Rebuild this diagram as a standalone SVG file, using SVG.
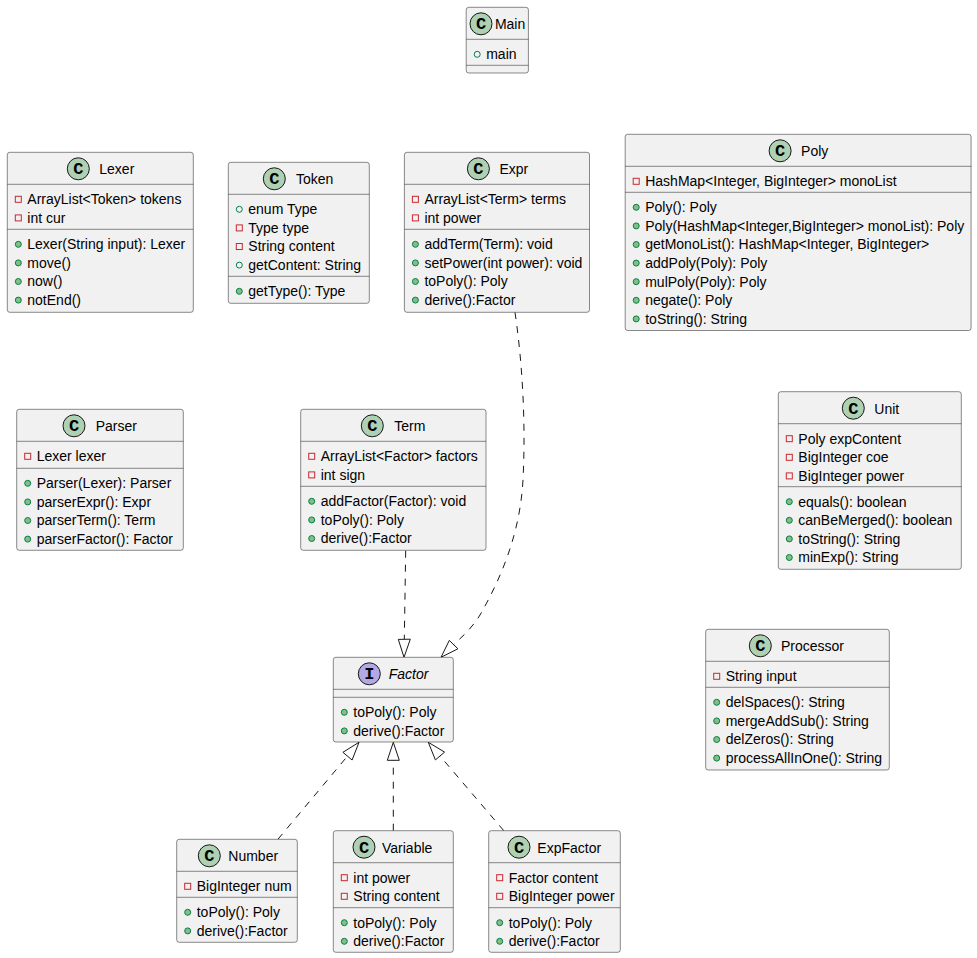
<svg xmlns="http://www.w3.org/2000/svg" width="977" height="958" viewBox="0 0 977 958">
<style>
.box{fill:#F1F1F1;stroke:#181818;stroke-width:0.5}
.sep{stroke:#181818;stroke-width:0.5}
text{font-family:"Liberation Sans",Arial,sans-serif;font-size:14px;fill:#000000}
.it{font-style:italic}
.ci{fill:#ADD1B2;stroke:#181818;stroke-width:1}
.ii{fill:#B4A7E5;stroke:#181818;stroke-width:1}
text.cl{font-family:"Liberation Mono","Courier New",monospace;font-size:17px;font-weight:bold;text-anchor:middle}
.pv{fill:none;stroke:#C82930;stroke-width:1}
.pm{fill:#84BE84;stroke:#038048;stroke-width:1}
.pf{fill:none;stroke:#038048;stroke-width:1}
.edge{fill:none;stroke:#181818;stroke-width:1;stroke-dasharray:7,7}
.head{fill:none;stroke:#181818;stroke-width:1}
</style>
<defs>
<rect id="priv" x="-3" y="-3" width="6" height="6" class="pv"/>
<circle id="pubm" r="3" class="pm"/>
<circle id="pubf" r="3" class="pf"/>
</defs>

<g id="connectors">
<path class="edge" d="M405.7,550.7 L404.3,639.3"/>
<polygon class="head" points="404,657.3 398.3,639.4 410.3,639.2"/>
<path class="edge" d="M515,312.3 C522,360 526,420 523,480 C520,535 500,580 480,615 C472,628 462,637 453.6,644.6"/>
<polygon class="head" points="441,657.3 457.9,648.8 449.3,640.4"/>
<path class="edge" d="M277.9,839.3 L347.5,756.1"/>
<polygon class="head" points="359,742.3 352.1,760 342.9,752.3"/>
<path class="edge" d="M393.3,830.7 L393.3,760.3"/>
<polygon class="head" points="393.3,742.3 387.3,760.3 399.3,760.3"/>
<path class="edge" d="M503.8,830.7 L440,756"/>
<polygon class="head" points="428.3,742.3 444.6,752.1 435.4,759.9"/>
</g>

<g id="Main" transform="translate(466.2,7.3)">
<rect class="box" width="62.2" height="65.7" rx="2.5"/>
<line class="sep" x1="0" y1="32" x2="62.2" y2="32"/>
<line class="sep" x1="0" y1="58" x2="62.2" y2="58"/>
<circle class="ci" cx="14.8" cy="16.5" r="11"/>
<text class="cl" x="14.8" y="22.2">C</text>
<text x="28.7" y="22">Main</text>
<use href="#pubf" x="11" y="47"/><text x="20" y="52">main</text>
</g>

<g id="Lexer" transform="translate(7.3,152.3)">
<rect class="box" width="186" height="160" rx="2.5"/>
<line class="sep" x1="0" y1="32" x2="186" y2="32"/>
<line class="sep" x1="0" y1="77" x2="186" y2="77"/>
<circle class="ci" cx="71" cy="16.5" r="11"/>
<text class="cl" x="71" y="22.2">C</text>
<text x="92" y="22">Lexer</text>
<use href="#priv" x="11" y="47"/><text x="20" y="52">ArrayList&lt;Token&gt; tokens</text>
<use href="#priv" x="11" y="65.6"/><text x="20" y="70.6">int cur</text>
<use href="#pubm" x="11" y="92"/><text x="20" y="97">Lexer(String input): Lexer</text>
<use href="#pubm" x="11" y="110.6"/><text x="20" y="115.6">move()</text>
<use href="#pubm" x="11" y="129.2"/><text x="20" y="134.2">now()</text>
<use href="#pubm" x="11" y="147.8"/><text x="20" y="152.8">notEnd()</text>
</g>

<g id="Token" transform="translate(228.3,162.3)">
<rect class="box" width="141" height="141" rx="2.5"/>
<line class="sep" x1="0" y1="32" x2="141" y2="32"/>
<line class="sep" x1="0" y1="114" x2="141" y2="114"/>
<circle class="ci" cx="46" cy="16.5" r="11"/>
<text class="cl" x="46" y="22.2">C</text>
<text x="67.7" y="22">Token</text>
<use href="#pubf" x="11" y="47"/><text x="20" y="52">enum Type</text>
<use href="#priv" x="11" y="65.6"/><text x="20" y="70.6">Type type</text>
<use href="#priv" x="11" y="84.2"/><text x="20" y="89.2">String content</text>
<use href="#pubf" x="11" y="102.8"/><text x="20" y="107.8">getContent: String</text>
<use href="#pubm" x="11" y="129"/><text x="20" y="134">getType(): Type</text>
</g>

<g id="Expr" transform="translate(404.4,152.3)">
<rect class="box" width="185.1" height="160" rx="2.5"/>
<line class="sep" x1="0" y1="32" x2="185.1" y2="32"/>
<line class="sep" x1="0" y1="77" x2="185.1" y2="77"/>
<circle class="ci" cx="74" cy="16.5" r="11"/>
<text class="cl" x="74" y="22.2">C</text>
<text x="95" y="22">Expr</text>
<use href="#priv" x="11" y="47"/><text x="20" y="52">ArrayList&lt;Term&gt; terms</text>
<use href="#priv" x="11" y="65.6"/><text x="20" y="70.6">int power</text>
<use href="#pubm" x="11" y="92"/><text x="20" y="97">addTerm(Term): void</text>
<use href="#pubm" x="11" y="110.6"/><text x="20" y="115.6">setPower(int power): void</text>
<use href="#pubm" x="11" y="129.2"/><text x="20" y="134.2">toPoly(): Poly</text>
<use href="#pubm" x="11" y="147.8"/><text x="20" y="152.8">derive():Factor</text>
</g>

<g id="Poly" transform="translate(625.2,134.3)">
<rect class="box" width="345.9" height="196.2" rx="2.5"/>
<line class="sep" x1="0" y1="32" x2="345.9" y2="32"/>
<line class="sep" x1="0" y1="58" x2="345.9" y2="58"/>
<circle class="ci" cx="154.9" cy="16.5" r="11"/>
<text class="cl" x="154.9" y="22.2">C</text>
<text x="175.9" y="22">Poly</text>
<use href="#priv" x="11" y="47"/><text x="20" y="52">HashMap&lt;Integer, BigInteger&gt; monoList</text>
<use href="#pubm" x="11" y="73"/><text x="20" y="78">Poly(): Poly</text>
<use href="#pubm" x="11" y="91.6"/><text x="20" y="96.6">Poly(HashMap&lt;Integer,BigInteger&gt; monoList): Poly</text>
<use href="#pubm" x="11" y="110.2"/><text x="20" y="115.2">getMonoList(): HashMap&lt;Integer, BigInteger&gt;</text>
<use href="#pubm" x="11" y="128.8"/><text x="20" y="133.8">addPoly(Poly): Poly</text>
<use href="#pubm" x="11" y="147.4"/><text x="20" y="152.4">mulPoly(Poly): Poly</text>
<use href="#pubm" x="11" y="166"/><text x="20" y="171">negate(): Poly</text>
<use href="#pubm" x="11" y="184.6"/><text x="20" y="189.6">toString(): String</text>
</g>

<g id="Parser" transform="translate(16.7,409.3)">
<rect class="box" width="166.6" height="141" rx="2.5"/>
<line class="sep" x1="0" y1="32" x2="166.6" y2="32"/>
<line class="sep" x1="0" y1="59" x2="166.6" y2="59"/>
<circle class="ci" cx="57.3" cy="16.5" r="11"/>
<text class="cl" x="57.3" y="22.2">C</text>
<text x="79" y="22">Parser</text>
<use href="#priv" x="11" y="47"/><text x="20" y="52">Lexer lexer</text>
<use href="#pubm" x="11" y="74"/><text x="20" y="79">Parser(Lexer): Parser</text>
<use href="#pubm" x="11" y="92.6"/><text x="20" y="97.6">parserExpr(): Expr</text>
<use href="#pubm" x="11" y="111.2"/><text x="20" y="116.2">parserTerm(): Term</text>
<use href="#pubm" x="11" y="129.8"/><text x="20" y="134.8">parserFactor(): Factor</text>
</g>

<g id="Term" transform="translate(300.7,409.3)">
<rect class="box" width="185.3" height="141" rx="2.5"/>
<line class="sep" x1="0" y1="32" x2="185.3" y2="32"/>
<line class="sep" x1="0" y1="77" x2="185.3" y2="77"/>
<circle class="ci" cx="71.6" cy="16.5" r="11"/>
<text class="cl" x="71.6" y="22.2">C</text>
<text x="93.6" y="22">Term</text>
<use href="#priv" x="11" y="47"/><text x="20" y="52">ArrayList&lt;Factor&gt; factors</text>
<use href="#priv" x="11" y="65.6"/><text x="20" y="70.6">int sign</text>
<use href="#pubm" x="11" y="92"/><text x="20" y="97">addFactor(Factor): void</text>
<use href="#pubm" x="11" y="110.6"/><text x="20" y="115.6">toPoly(): Poly</text>
<use href="#pubm" x="11" y="129.2"/><text x="20" y="134.2">derive():Factor</text>
</g>

<g id="Unit" transform="translate(778.3,391.7)">
<rect class="box" width="183" height="177.6" rx="2.5"/>
<line class="sep" x1="0" y1="32" x2="183" y2="32"/>
<line class="sep" x1="0" y1="95" x2="183" y2="95"/>
<circle class="ci" cx="75" cy="16.5" r="11"/>
<text class="cl" x="75" y="22.2">C</text>
<text x="96" y="22">Unit</text>
<use href="#priv" x="11" y="47"/><text x="20" y="52">Poly expContent</text>
<use href="#priv" x="11" y="65.6"/><text x="20" y="70.6">BigInteger coe</text>
<use href="#priv" x="11" y="84.2"/><text x="20" y="89.2">BigInteger power</text>
<use href="#pubm" x="11" y="110"/><text x="20" y="115">equals(): boolean</text>
<use href="#pubm" x="11" y="128.6"/><text x="20" y="133.6">canBeMerged(): boolean</text>
<use href="#pubm" x="11" y="147.2"/><text x="20" y="152.2">toString(): String</text>
<use href="#pubm" x="11" y="165.8"/><text x="20" y="170.8">minExp(): String</text>
</g>

<g id="Processor" transform="translate(705.7,629.3)">
<rect class="box" width="183.6" height="140.7" rx="2.5"/>
<line class="sep" x1="0" y1="32" x2="183.6" y2="32"/>
<line class="sep" x1="0" y1="58" x2="183.6" y2="58"/>
<circle class="ci" cx="54.6" cy="16.5" r="11"/>
<text class="cl" x="54.6" y="22.2">C</text>
<text x="75.3" y="22">Processor</text>
<use href="#priv" x="11" y="47"/><text x="20" y="52">String input</text>
<use href="#pubm" x="11" y="73"/><text x="20" y="78">delSpaces(): String</text>
<use href="#pubm" x="11" y="91.6"/><text x="20" y="96.6">mergeAddSub(): String</text>
<use href="#pubm" x="11" y="110.2"/><text x="20" y="115.2">delZeros(): String</text>
<use href="#pubm" x="11" y="128.8"/><text x="20" y="133.8">processAllInOne(): String</text>
</g>

<g id="Factor" transform="translate(333.3,657.3)">
<rect class="box" width="120" height="84.7" rx="2.5"/>
<line class="sep" x1="0" y1="32" x2="120" y2="32"/>
<line class="sep" x1="0" y1="40" x2="120" y2="40"/>
<circle class="ii" cx="36" cy="16.5" r="11"/>
<text class="cl" x="36" y="22.2">I</text>
<text class="it" x="55.4" y="22">Factor</text>
<use href="#pubm" x="11" y="55"/><text x="20" y="60">toPoly(): Poly</text>
<use href="#pubm" x="11" y="73.6"/><text x="20" y="78.6">derive():Factor</text>
</g>

<g id="Number" transform="translate(176.7,839.3)">
<rect class="box" width="120.6" height="103" rx="2.5"/>
<line class="sep" x1="0" y1="32" x2="120.6" y2="32"/>
<line class="sep" x1="0" y1="58" x2="120.6" y2="58"/>
<circle class="ci" cx="32.6" cy="16.5" r="11"/>
<text class="cl" x="32.6" y="22.2">C</text>
<text x="51.6" y="22">Number</text>
<use href="#priv" x="11" y="47"/><text x="20" y="52">BigInteger num</text>
<use href="#pubm" x="11" y="73"/><text x="20" y="78">toPoly(): Poly</text>
<use href="#pubm" x="11" y="91.6"/><text x="20" y="96.6">derive():Factor</text>
</g>

<g id="Variable" transform="translate(333.3,830.7)">
<rect class="box" width="120" height="121.6" rx="2.5"/>
<line class="sep" x1="0" y1="32" x2="120" y2="32"/>
<line class="sep" x1="0" y1="77" x2="120" y2="77"/>
<circle class="ci" cx="30.7" cy="16.5" r="11"/>
<text class="cl" x="30.7" y="22.2">C</text>
<text x="48.7" y="22">Variable</text>
<use href="#priv" x="11" y="47"/><text x="20" y="52">int power</text>
<use href="#priv" x="11" y="65.6"/><text x="20" y="70.6">String content</text>
<use href="#pubm" x="11" y="92"/><text x="20" y="97">toPoly(): Poly</text>
<use href="#pubm" x="11" y="110.6"/><text x="20" y="115.6">derive():Factor</text>
</g>

<g id="ExpFactor" transform="translate(488.7,830.7)">
<rect class="box" width="131.6" height="121.6" rx="2.5"/>
<line class="sep" x1="0" y1="32" x2="131.6" y2="32"/>
<line class="sep" x1="0" y1="77" x2="131.6" y2="77"/>
<circle class="ci" cx="30.3" cy="16.5" r="11"/>
<text class="cl" x="30.3" y="22.2">C</text>
<text x="48.6" y="22">ExpFactor</text>
<use href="#priv" x="11" y="47"/><text x="20" y="52">Factor content</text>
<use href="#priv" x="11" y="65.6"/><text x="20" y="70.6">BigInteger power</text>
<use href="#pubm" x="11" y="92"/><text x="20" y="97">toPoly(): Poly</text>
<use href="#pubm" x="11" y="110.6"/><text x="20" y="115.6">derive():Factor</text>
</g>
</svg>
